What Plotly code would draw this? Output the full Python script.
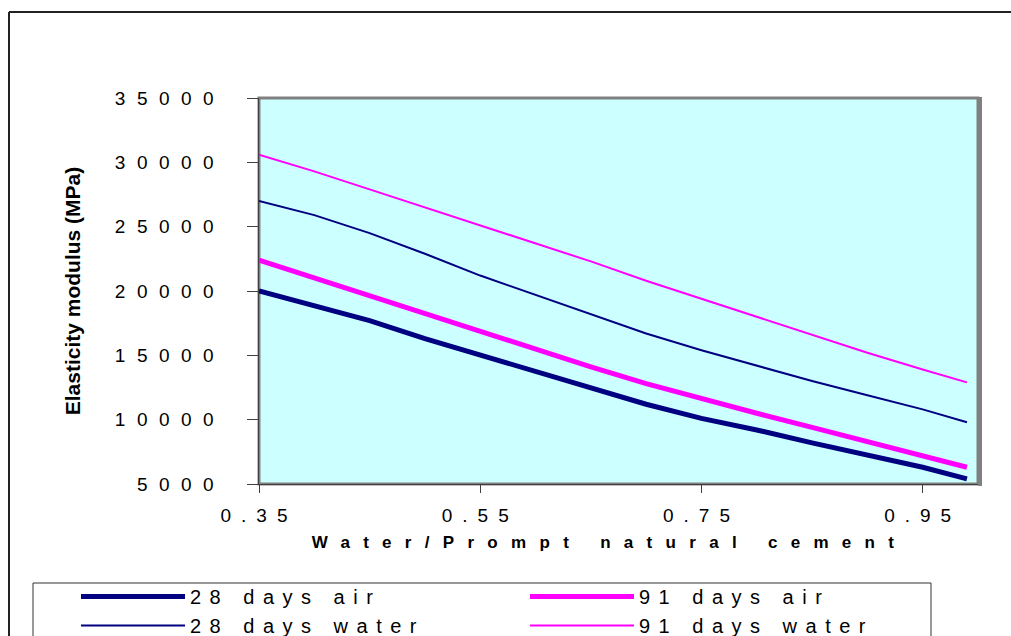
import plotly.graph_objects as go

# ---- data ----
wc_ratio = [0.35, 0.40, 0.45, 0.50, 0.55, 0.60, 0.65, 0.70, 0.75, 0.80, 0.85, 0.90, 0.95, 0.99]
days28_air = [20000, 18900, 17700, 16300, 15000, 13700, 12400, 11200, 10100, 9200, 8200, 7200, 6300, 5400]
days91_air = [22400, 21000, 19700, 18300, 16900, 15500, 14100, 12800, 11600, 10500, 9400, 8300, 7200, 6300]
days28_water = [27000, 25900, 24500, 22900, 21200, 19700, 18200, 16700, 15400, 14200, 13000, 11900, 10800, 9800]
days91_water = [30600, 29300, 27900, 26500, 25100, 23700, 22300, 20800, 19400, 18000, 16600, 15200, 13900, 12900]

x_ticks = [0.35, 0.55, 0.75, 0.95]
x_tick_labels = ["0.35", "0.55", "0.75", "0.95"]
y_ticks = [5000, 10000, 15000, 20000, 25000, 30000, 35000]
y_tick_labels = ["5000", "10000", "15000", "20000", "25000", "30000", "35000"]

series = [
    ("28 days air", days28_air, "#000080", 5),
    ("91 days air", days91_air, "#FF00FF", 5),
    ("28 days water", days28_water, "#000080", 2),
    ("91 days water", days91_water, "#FF00FF", 2),
]

FONT = "Liberation Sans, Arial, sans-serif"


def spaced(s, px):
    return f'<span style="letter-spacing:{px}px">{s}</span>'


fig = go.Figure()
for name, vals, color, width in series:
    fig.add_trace(go.Scatter(
        x=wc_ratio, y=vals, mode="lines", name=spaced(name, 8.5),
        line=dict(color=color, width=width),
    ))

# plot area geometry (px)
L, R, T, B = 259, 978, 98, 484
W, H = 1011, 636
pw, ph = R - L, B - T


def fx(px):
    return (px - L) / pw


def fy(py):
    return (B - py) / ph


fig.update_layout(
    width=W, height=H,
    margin=dict(l=L, r=W - R, t=T, b=H - B, autoexpand=False),
    paper_bgcolor="white",
    plot_bgcolor="#CCFFFF",
    font=dict(family=FONT, color="black"),
    showlegend=True,
    legend=dict(
        orientation="h", x=fx(76), xanchor="left", y=fy(577), yanchor="top",
        entrywidth=330, entrywidthmode="pixels", itemwidth=104,
        font=dict(family=FONT, size=20, color="black"),
        bgcolor="rgba(0,0,0,0)", borderwidth=0, tracegroupgap=0,
    ),
    xaxis=dict(
        range=[0.35, 1.0], tickmode="array", tickvals=x_ticks,
        ticktext=[spaced(t, 10) for t in x_tick_labels],
        ticks="outside", ticklen=8, tickcolor="#404040", tickwidth=1,
        ticklabelstandoff=6,
        tickfont=dict(family=FONT, size=19, color="black"),
        showgrid=False, zeroline=False, showline=True, linecolor="#404040", linewidth=1,
        title=dict(text="<b>" + spaced("Water/Prompt natural cement\u00a0", 13.3) + "</b>",
                   font=dict(family=FONT, size=17, color="black"), standoff=11),
    ),
    yaxis=dict(
        range=[5000, 35000], tickmode="array", tickvals=y_ticks,
        ticktext=[spaced(t, 11.5) for t in y_tick_labels],
        ticks="outside", ticklen=11, tickcolor="#404040", tickwidth=1,
        tickfont=dict(family=FONT, size=19, color="black"),
        ticklabelstandoff=18,
        showgrid=False, zeroline=False, showline=True, linecolor="#404040", linewidth=1,
        title=dict(text="<b>Elasticity modulus (MPa)</b>",
                   font=dict(family=FONT, size=21, color="black"), standoff=28),
    ),
    shapes=[
        # plot area frame
        dict(type="rect", xref="paper", yref="paper", x0=0, x1=1, y0=0, y1=1,
             line=dict(color="#808080", width=3), layer="below"),
        # right-side shadow of the plot area
        dict(type="line", xref="paper", yref="paper", x0=fx(980), x1=fx(980), y0=fy(486), y1=fy(97),
             line=dict(color="#808080", width=4)),
        # white strip along the right edge of the window
        dict(type="rect", xref="paper", yref="paper", x0=fx(996), x1=fx(1030), y0=fy(660), y1=fy(-20),
             line=dict(width=0), fillcolor="white"),
        # outer chart border: top and left edges (others lie outside the window)
        dict(type="line", xref="paper", yref="paper", x0=fx(9), x1=fx(1011), y0=fy(12), y1=fy(12),
             line=dict(color="#222222", width=2)),
        dict(type="line", xref="paper", yref="paper", x0=fx(9), x1=fx(9), y0=fy(12), y1=fy(636),
             line=dict(color="#222222", width=2)),
        # legend box (bottom edge outside the window)
        dict(type="line", xref="paper", yref="paper", x0=fx(33), x1=fx(931), y0=fy(583), y1=fy(583),
             line=dict(color="#333333", width=1)),
        dict(type="line", xref="paper", yref="paper", x0=fx(33), x1=fx(33), y0=fy(583), y1=fy(636),
             line=dict(color="#333333", width=1)),
        dict(type="line", xref="paper", yref="paper", x0=fx(931), x1=fx(931), y0=fy(583), y1=fy(636),
             line=dict(color="#333333", width=1)),
    ],
)

fig.write_html("out.html")
